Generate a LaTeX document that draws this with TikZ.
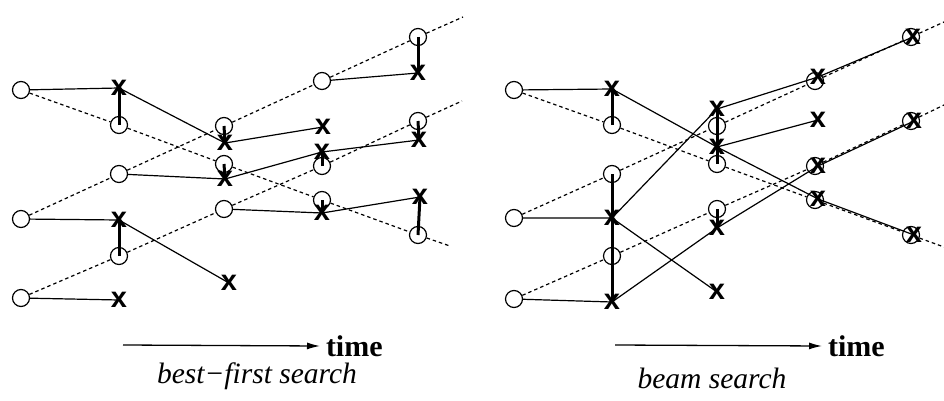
\documentclass[tikz,border=0pt]{standalone}
\usepackage{fontspec}
\setmainfont{Liberation Serif}
\setsansfont{Liberation Sans}
\usetikzlibrary{arrows.meta}

\begin{document}
\begin{tikzpicture}[x=1pt,y=-1pt]

\tikzset{hyp/.style = {shape=circle,draw,line width=1.2pt,minimum size=17pt,inner sep=0pt}}
\tikzset{pick/.style = {inner sep=0pt,outer sep=0pt,font=\fontsize{29}{29}\sffamily\bfseries}}
\tikzset{link/.style = {line width=1.2pt}}
\tikzset{beam/.style = {line width=1.2pt,dash pattern=on 3.5pt off 3pt}}
\tikzset{move/.style = {line width=3pt}}
\tikzset{clock/.style = {line width=1.3pt,-{Latex[length=13pt,width=7pt]}}}
\tikzset{timelabel/.style = {anchor=west,inner sep=0pt,outer sep=6pt,font=\fontsize{30}{30}\selectfont\bfseries}}

\useasboundingbox (0,0) rectangle (944,401);

% hypotheses, best-first
\node[hyp] (la) at (21,90) {};
\node[hyp] (lb) at (21,219) {};
\node[hyp] (lc) at (21,298) {};
\node[hyp] (l2a) at (119,125) {};
\node[hyp] (l2b) at (119,174) {};
\node[hyp] (l2c) at (119,256) {};
\node[hyp] (l3a) at (224,126) {};
\node[hyp] (l3b) at (224,164) {};
\node[hyp] (l3c) at (224,209) {};
\node[hyp] (l4a) at (322,81) {};
\node[hyp] (l4b) at (322,166) {};
\node[hyp] (l4c) at (322,200) {};
\node[hyp] (l5a) at (418,37) {};
\node[hyp] (l5b) at (418,121) {};
\node[hyp] (l5c) at (418,235) {};
\coordinate (le1) at (450,246);
\coordinate (le2) at (463,17);
\coordinate (le3) at (462,101);

% picks, best-first
\node[pick] (lx2a) at (119,88) {x};
\node[pick] (lx2b) at (119,220) {x};
\node[pick] (lx2c) at (119,300) {x};
\node[pick] (lx3a) at (225,143) {x};
\node[pick] (lx3b) at (225,179) {x};
\node[pick] (lx3c) at (229,283) {x};
\node[pick] (lx4a) at (323,127) {x};
\node[pick] (lx4b) at (322,152) {x};
\node[pick] (lx4c) at (322,213) {x};
\node[pick] (lx5a) at (418,73) {x};
\node[pick] (lx5b) at (419,140) {x};
\node[pick] (lx5c) at (420,197) {x};

% hypotheses, beam
\node[hyp] (ra) at (514,90) {};
\node[hyp] (rb) at (514,218) {};
\node[hyp] (rc) at (514,299) {};
\node[hyp] (r2a) at (612,125) {};
\node[hyp] (r2b) at (612,174) {};
\node[hyp] (r2c) at (612,256) {};
\node[hyp] (r3a) at (717,126) {};
\node[hyp] (r3b) at (717,164) {};
\node[hyp] (r3c) at (717,209) {};
\node[hyp] (r4a) at (815,81) {};
\node[hyp] (r4b) at (815,166) {};
\node[hyp] (r4c) at (815,200) {};
\node[hyp] (r5a) at (911,37) {};
\node[hyp] (r5b) at (911,121) {};
\node[hyp] (r5c) at (911,235) {};
\coordinate (re1) at (944,247);
\coordinate (re2) at (944,22);
\coordinate (re3) at (944,105);

% picks, beam
\node[pick] (rx2a) at (612,89) {x};
\node[pick] (rx2b) at (612,218) {x};
\node[pick] (rx2c) at (612,302) {x};
\node[pick] (rx3a) at (717,109) {x};
\node[pick] (rx3b) at (717,147) {x};
\node[pick] (rx3c) at (717,228) {x};
\node[pick] (rx3d) at (717,292) {x};
\node[pick] (rx4a) at (818,77) {x};
\node[pick] (rx4b) at (818,120) {x};
\node[pick] (rx4c) at (818,166) {x};
\node[pick] (rx4d) at (818,199) {x};
\node[pick] (rx5a) at (913,37) {x};
\node[pick] (rx5b) at (914,121) {x};
\node[pick] (rx5c) at (914,235) {x};

% successors
\draw[beam] (la) -- (l2a) -- (l3b) -- (l4c) -- (l5c) -- (le1);
\draw[beam] (lb) -- (l2b) -- (l3a) -- (l4a) -- (l5a) -- (le2);
\draw[beam] (lc) -- (l2c) -- (l3c) -- (l4b) -- (l5b) -- (le3);
\draw[beam] (ra) -- (r2a) -- (r3b) -- (r4c) -- (r5c) -- (re1);
\draw[beam] (rb) -- (r2b) -- (r3a) -- (r4a) -- (r5a) -- (re2);
\draw[beam] (rc) -- (r2c) -- (r3c) -- (r4b) -- (r5b) -- (re3);

% paths, best-first
\draw[link] (la) -- (lx2a.center) -- (lx3a.center) -- (lx4a.center);
\draw[link] (l2b) -- (lx3b.center) -- (lx4b.center) -- (lx5b.center);
\draw[link] (l3c) -- (lx4c.center) -- (lx5c.center);
\draw[link] (l4a) -- (lx5a.center);
\draw[link] (lb) -- (lx2b.center) -- (lx3c.center);
\draw[link] (lc) -- (lx2c.center);

% paths, beam
\draw[link] (ra) -- (rx2a.center) -- (rx3b.center) -- (rx4d.center) -- (rx5c.center);
\draw[link] (rx3b.center) -- (rx4b.center);
\draw[link] (rb) -- (rx2b.center) -- (rx3a.center) -- (rx4a.center) -- (rx5a.center);
\draw[link] (rx2b.center) -- (rx3d.center);
\draw[link] (rc) -- (rx2c.center) -- (rx3c.center) -- (rx4c.center) -- (rx5b.center);

% reorderings
\draw[move] (l2a.center) -- (lx2a.center);
\draw[move] (l2c.center) -- (lx2b.center);
\draw[move] (l3a.center) -- (lx3a.center);
\draw[move] (l3b.center) -- (lx3b.center);
\draw[move] (l4b.center) -- (lx4b.center);
\draw[move] (l4c.center) -- (lx4c.center);
\draw[move] (l5a.center) -- (lx5a.center);
\draw[move] (l5b.center) -- (lx5b.center);
\draw[move] (l5c.center) -- (lx5c.center);
\draw[move] (r2a.center) -- (rx2a.center);
\draw[move] (r2b.center) -- (rx2c.center);
\draw[move] (rx3a.center) -- (r3b.center);
\draw[move] (r3c.center) -- (rx3c.center);

% time axes
\coordinate (lt0) at (123,345);
\node[timelabel] (ltime) at (320,346) {time};
\draw[clock] (lt0) -- (ltime.west);
\coordinate (rt0) at (615,345);
\node[timelabel] (rtime) at (822,346) {time};
\draw[clock] (rt0) -- (rtime.west);

% labels
\node[font=\fontsize{29.5}{30}\selectfont\itshape] at (257,376) {best−first search};
\node[font=\fontsize{29.5}{30}\selectfont\itshape] at (712,378) {beam search};

\end{tikzpicture}
\end{document}
